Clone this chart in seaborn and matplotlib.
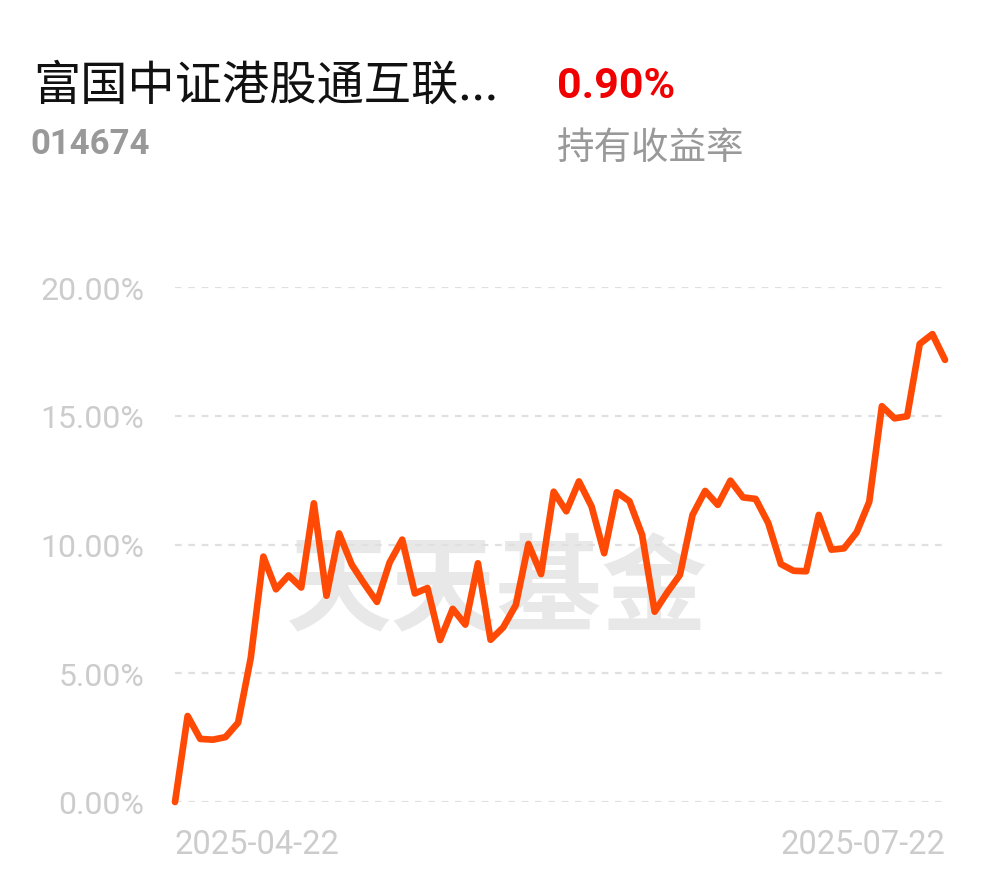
import matplotlib
matplotlib.use("Agg")
import matplotlib.pyplot as plt
import seaborn as sns
import pandas as pd

# 持有收益率 (%) par jour de bourse
rendement = [
    0.00, 3.34, 2.45, 2.42, 2.52, 3.08, 5.59, 9.53, 8.26, 8.80,
    8.33, 11.60, 8.01, 10.43, 9.22, 8.47, 7.77, 9.30, 10.19, 8.10,
    8.31, 6.29, 7.50, 6.89, 9.27, 6.30, 6.78, 7.65, 10.02, 8.85,
    12.05, 11.29, 12.45, 11.48, 9.66, 12.03, 11.68, 10.38, 7.39, 8.14,
    8.82, 11.15, 12.08, 11.54, 12.48, 11.83, 11.77, 10.83, 9.24, 8.98,
    8.96, 11.15, 9.80, 9.85, 10.47, 11.66, 15.37, 14.90, 14.98, 17.79,
    18.17, 17.17,
]
jours_feries = ["2025-05-01", "2025-05-02", "2025-05-05", "2025-06-02"]
dates = pd.bdate_range("2025-04-22", "2025-07-22", freq="C", holidays=jours_feries)
y_ticks = [0, 5, 10, 15, 20]
y_labels = ["0.00%", "5.00%", "10.00%", "15.00%", "20.00%"]

nom_fonds = "富国中证港股通互联..."
code_fonds = "014674"
rendement_total = "0.90%"
libelle = "持有收益率"
filigrane = "天天基金"

# axe x : un pas par jour de bourse
df = pd.DataFrame({"jour": range(len(dates)), "rendement": rendement})

sns.set_theme(style="white")
plt.rcParams["font.family"] = ["Roboto", "Noto Sans CJK SC", "DejaVu Sans"]

W, H = 990, 878
fig = plt.figure(figsize=(W / 100, H / 100), dpi=100)
fig.patch.set_facecolor("white")

def px(x, y):
    return x / W, 1 - y / H

ax = fig.add_axes([175 / W, 1 - 803 / H, 770 / W, 515 / H])
ax.set_facecolor("none")

# filigrane
ax.text(0.418, 0.41, filigrane, transform=ax.transAxes, ha="center", va="center",
        fontsize=76, fontweight="bold", color="#e8e8e8",
        family=["Noto Sans CJK SC"], zorder=0)

for v in y_ticks:
    ax.axhline(v, color="#e0e0e0", lw=1.6, ls=(0, (3, 3)), zorder=1)

sns.lineplot(data=df, x="jour", y="rendement", ax=ax, color="#ff4a05",
             linewidth=4.8, zorder=3, clip_on=False, solid_joinstyle="round",
             solid_capstyle="round")

ax.set_xlim(0, len(dates) - 1)
ax.set_ylim(0, 20)
ax.set_yticks(y_ticks)
ax.set_yticklabels(y_labels)
ax.set_xticks([0, len(dates) - 1])
ax.set_xticklabels([d.strftime("%Y-%m-%d") for d in [dates[0], dates[-1]]])
xl = ax.get_xticklabels()
xl[0].set_horizontalalignment("left")
xl[1].set_horizontalalignment("right")
ax.tick_params(axis="y", length=0, pad=22, labelsize=23, labelcolor="#cccccc")
ax.tick_params(axis="x", length=0, pad=19, labelsize=23.5, labelcolor="#cccccc")
ax.set_xlabel("")
ax.set_ylabel("")
for s in ax.spines.values():
    s.set_visible(False)

# en-tête
fig.text(*px(33, 86), nom_fonds, ha="left", va="center", fontsize=34,
         color="#111111", family=["Noto Sans CJK SC", "DejaVu Sans"])
fig.text(*px(30, 145), code_fonds, ha="left", va="center", fontsize=25,
         fontweight="bold", color="#999999")
fig.text(*px(557, 86), rendement_total, ha="left", va="center", fontsize=31,
         fontweight="bold", color="#f00000")
fig.text(*px(557, 148), libelle, ha="left", va="center", fontsize=27,
         color="#999999", family=["Noto Sans CJK SC"])

fig.savefig("out.png", dpi=100, facecolor="white")
